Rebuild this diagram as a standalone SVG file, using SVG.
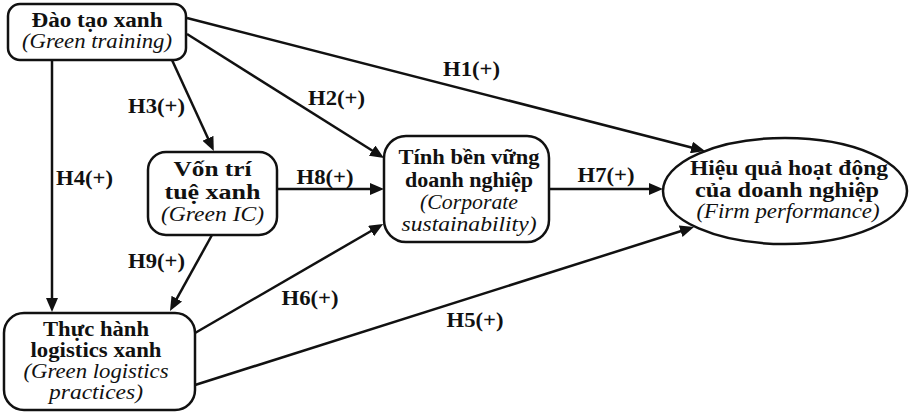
<svg xmlns="http://www.w3.org/2000/svg" width="912" height="413" viewBox="0 0 912 413">
<style>
.box{fill:#fff;stroke:#111;stroke-width:2.5}
.b{font-family:"Liberation Serif","Times New Roman",serif;font-weight:bold;font-size:20px;fill:#111;text-anchor:middle}
.i{font-family:"Liberation Serif","Times New Roman",serif;font-style:italic;font-size:20px;fill:#111;text-anchor:middle}
.c{stroke:#111;stroke-width:2.5;fill:none;marker-end:url(#ah)}
</style>
<defs>
<marker id="ah" markerUnits="userSpaceOnUse" markerWidth="14" markerHeight="12" refX="8" refY="6" orient="auto">
<path d="M0,0 L14,6 L0,12 z" fill="#111"/>
</marker>
</defs>
<rect width="912" height="413" fill="#fff"/>
<g id="connectors">
<line class="c" x1="52" y1="60" x2="52" y2="306"/>
<line class="c" x1="172" y1="60" x2="211.3" y2="145.6"/>
<line class="c" x1="212" y1="235" x2="172.9" y2="305.7"/>
<line class="c" x1="277" y1="189" x2="378" y2="189"/>
<line class="c" x1="549" y1="189" x2="657" y2="189"/>
<line class="c" x1="187" y1="34" x2="378.9" y2="154.8"/>
<line class="c" x1="195" y1="333" x2="378" y2="227"/>
<line class="c" x1="187" y1="18" x2="699.2" y2="149.5"/>
<line class="c" x1="195" y1="385" x2="688.3" y2="228.8"/>
<text class="b" x="471.5" y="76" textLength="57" lengthAdjust="spacingAndGlyphs">H1(+)</text>
<text class="b" x="336.5" y="105" textLength="57" lengthAdjust="spacingAndGlyphs">H2(+)</text>
<text class="b" x="156.5" y="113" textLength="57" lengthAdjust="spacingAndGlyphs">H3(+)</text>
<text class="b" x="84.5" y="185" textLength="57" lengthAdjust="spacingAndGlyphs">H4(+)</text>
<text class="b" x="475" y="327" textLength="57" lengthAdjust="spacingAndGlyphs">H5(+)</text>
<text class="b" x="310" y="305" textLength="57" lengthAdjust="spacingAndGlyphs">H6(+)</text>
<text class="b" x="606" y="182" textLength="57" lengthAdjust="spacingAndGlyphs">H7(+)</text>
<text class="b" x="325" y="184" textLength="57" lengthAdjust="spacingAndGlyphs">H8(+)</text>
<text class="b" x="156.5" y="268" textLength="57" lengthAdjust="spacingAndGlyphs">H9(+)</text>
</g>
<g id="green-training">
<rect class="box" x="8" y="4" width="178" height="56" rx="12"/>
<text class="b" x="97" y="27" textLength="131" lengthAdjust="spacingAndGlyphs">Đào tạo xanh</text>
<text class="i" x="97" y="48" textLength="150" lengthAdjust="spacingAndGlyphs">(Green training)</text>
</g>
<g id="green-ic">
<rect class="box" x="148" y="152" width="129" height="83" rx="18"/>
<text class="b" x="212.5" y="176" textLength="78" lengthAdjust="spacingAndGlyphs">Vốn trí</text>
<text class="b" x="212.5" y="199" textLength="96" lengthAdjust="spacingAndGlyphs">tuệ xanh</text>
<text class="i" x="212.5" y="221" textLength="103" lengthAdjust="spacingAndGlyphs">(Green IC)</text>
</g>
<g id="corporate-sustainability">
<rect class="box" x="384" y="136" width="165" height="106" rx="22"/>
<text class="b" x="469" y="164" textLength="141" lengthAdjust="spacingAndGlyphs">Tính bền vững</text>
<text class="b" x="469" y="187" textLength="128" lengthAdjust="spacingAndGlyphs">doanh nghiệp</text>
<text class="i" x="469" y="209" textLength="98" lengthAdjust="spacingAndGlyphs">(Corporate</text>
<text class="i" x="469" y="231" textLength="135" lengthAdjust="spacingAndGlyphs">sustainability)</text>
</g>
<g id="firm-performance">
<ellipse class="box" cx="785" cy="191" rx="122" ry="53"/>
<text class="b" x="789" y="175" textLength="198" lengthAdjust="spacingAndGlyphs">Hiệu quả hoạt động</text>
<text class="b" x="787" y="197" textLength="184" lengthAdjust="spacingAndGlyphs">của doanh nghiệp</text>
<text class="i" x="788" y="218" textLength="183" lengthAdjust="spacingAndGlyphs">(Firm performance)</text>
</g>
<g id="green-logistics">
<rect class="box" x="4" y="313" width="191" height="97" rx="20"/>
<text class="b" x="96" y="336" textLength="106" lengthAdjust="spacingAndGlyphs">Thực hành</text>
<text class="b" x="96" y="357" textLength="131" lengthAdjust="spacingAndGlyphs">logistics xanh</text>
<text class="i" x="96" y="378" textLength="145" lengthAdjust="spacingAndGlyphs">(Green logistics</text>
<text class="i" x="96" y="399" textLength="94" lengthAdjust="spacingAndGlyphs">practices)</text>
</g>
</svg>
